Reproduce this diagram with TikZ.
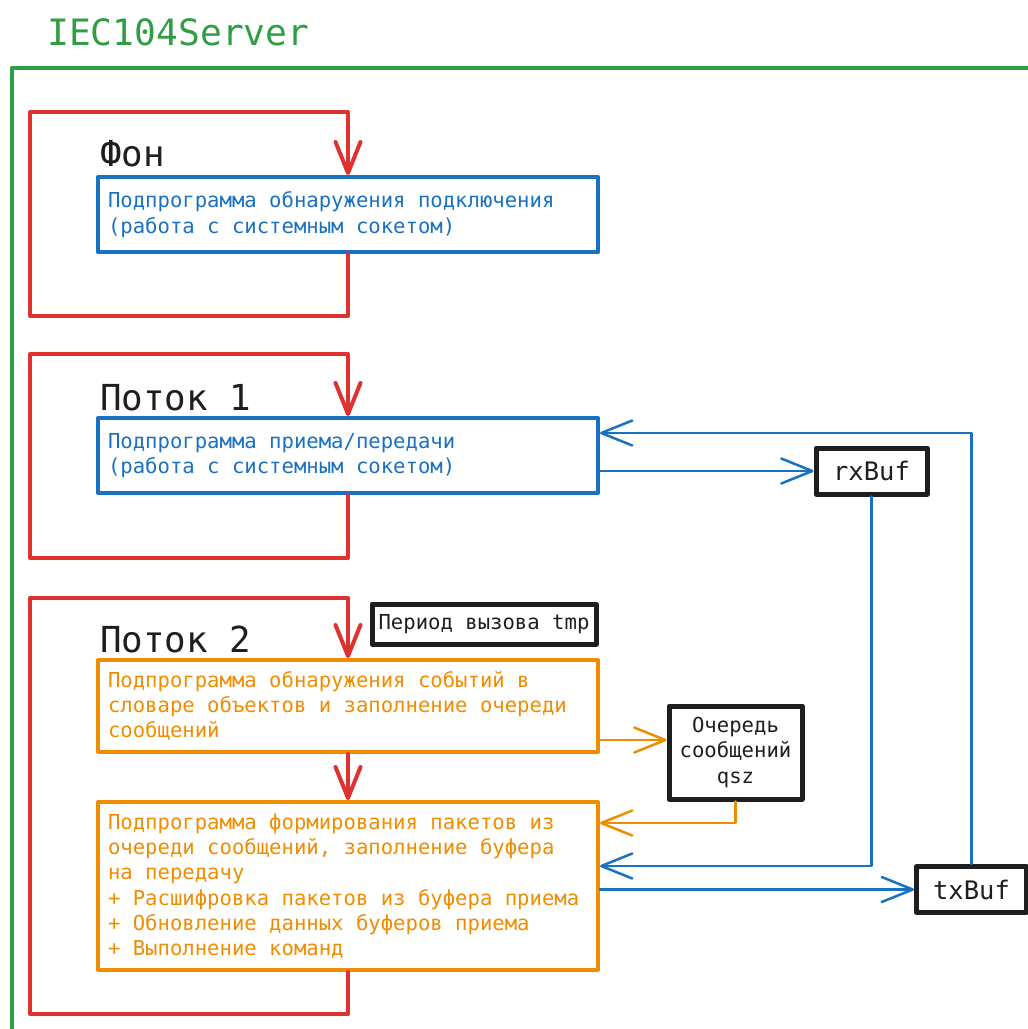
\documentclass[tikz,border=0pt]{standalone}
\usepackage{fontspec}
\newfontfamily\mono{DejaVu Sans Mono}
\newcommand\fixspace{\spaceskip=0.602em\relax\xspaceskip=0.602em\relax}
\usetikzlibrary{arrows.meta}
\definecolor{cred}{HTML}{E03131}
\definecolor{cblue}{HTML}{1971C2}
\definecolor{corange}{HTML}{F08C00}
\definecolor{cgreen}{HTML}{2F9E44}
\definecolor{cblack}{HTML}{1E1E1E}
\tikzset{
  bodyfont/.style={font=\mono\fontsize{20.6}{25.3}\selectfont, execute at begin node=\fixspace},
  prog/.style={draw, line width=4pt, line join=round, bodyfont, text width=480pt, inner xsep=10pt, inner ysep=0pt, align=left},
  bluebox/.style={prog, draw=cblue, text=cblue},
  orangebox/.style={prog, draw=corange, text=corange},
  blackbox/.style={draw=cblack, line width=5pt, line join=round, text=cblack, inner sep=0pt, align=center},
  thread/.style={anchor=base west, inner sep=0pt, text=cblack, font=\mono\fontsize{35.8}{40}\selectfont},
  tip/.style={-{Straight Barb[length=31pt,width=25pt,line cap=round,line join=round]}},
  redcon/.style={draw=cred, line width=4pt, line join=round, line cap=round},
  bluecon/.style={draw=cblue, line width=2.5pt, line join=round, line cap=round},
  orangecon/.style={draw=corange, line width=2.5pt, line join=round, line cap=round},
}
\begin{document}
\begin{tikzpicture}[x=1pt,y=-1pt]
\useasboundingbox (0,0) rectangle (1028,1029);
\clip (0,0) rectangle (1028,1029);
% title and outer frame
\node[anchor=base west, inner sep=0pt, text=cgreen, font=\mono\fontsize{36.3}{40}\selectfont] (title) at (47,45) {IEC104Server};
\coordinate (gbl) at (12,1040);
\coordinate (gtl) at (12,68);
\coordinate (gtr) at (1040,68);
\draw[draw=cgreen, line width=4pt, line join=round] (gbl) -- (gtl) -- (gtr);

% boxes
\node[bluebox, minimum height=75pt] (b1) at (348,214.5) {Подпрограмма обнаружения подключения\\(работа с системным сокетом)};
\node[bluebox, minimum height=75pt] (b2) at (348,455.5) {Подпрограмма приема/передачи\\(работа с системным сокетом)};
\node[orangebox, minimum height=92pt] (o1) at (348,706) {Подпрограмма обнаружения событий в\\словаре объектов и заполнение очереди\\сообщений};
\node[orangebox, minimum height=168pt] (o2) at (348,886) {Подпрограмма формирования пакетов из\\очереди сообщений, заполнение буфера\\на передачу\\+ Расшифровка пакетов из буфера приема\\+ Обновление данных буферов приема\\+ Выполнение команд};

\node[blackbox, minimum width=111pt, minimum height=46pt, font=\mono\fontsize{25.5}{28}\selectfont] (rx) at (871.5,471) {rxBuf};
\node[blackbox, minimum width=110pt, minimum height=46pt, font=\mono\fontsize{25.5}{28}\selectfont] (tx) at (971.5,889.5) {txBuf};
\node[blackbox, minimum width=224pt, minimum height=40pt, bodyfont] (per) at (484,624) {Период вызова tmp};
\node[blackbox, minimum width=133pt, minimum height=93pt, bodyfont] (q) at (735.5,752.5) {Очередь\\сообщений\\qsz};

% thread labels
\node[thread] (lfon) at (100,166) {Фон};
\node[thread] (lp1) at (100,410) {Поток 1};
\node[thread] (lp2) at (100,652) {Поток 2};

% red loops
\coordinate (r1tr) at (348,112);
\coordinate (r1tl) at (30,112);
\coordinate (r1bl) at (30,316);
\coordinate (r1br) at (348,316);
\draw[redcon, tip] (b1.south) -- (r1br) -- (r1bl) -- (r1tl) -- (r1tr) -- (b1.north);

\coordinate (r2tr) at (348,354);
\coordinate (r2tl) at (30,354);
\coordinate (r2bl) at (30,558);
\coordinate (r2br) at (348,558);
\draw[redcon, tip] (b2.south) -- (r2br) -- (r2bl) -- (r2tl) -- (r2tr) -- (b2.north);

\coordinate (r3tr) at (348,598);
\coordinate (r3tl) at (30,598);
\coordinate (r3bl) at (30,1014);
\coordinate (r3br) at (348,1014);
\draw[redcon, tip] (o2.south) -- (r3br) -- (r3bl) -- (r3tl) -- (r3tr) -- (o1.north);
\draw[redcon, tip] (o1.south) -- (o2.north);

% blue connectors
\coordinate (y433) at (0,433);
\coordinate (y866) at (0,866);
\draw[bluecon, tip] (b2.east |- rx.west) -- (rx.west);
\draw[bluecon, tip] (tx.north) -- (tx.north |- y433) -- (b2.east |- y433);
\draw[bluecon, tip] (rx.south) -- (rx.south |- y866) -- (o2.east |- y866);
\draw[bluecon, tip] (o2.east |- tx.west) -- (tx.west);

% orange connectors
\coordinate (y740) at (0,740);
\coordinate (y823) at (0,823);
\draw[orangecon, tip] (o1.east |- y740) -- (q.west |- y740);
\draw[orangecon, tip] (q.south) -- (q.south |- y823) -- (o2.east |- y823);
\end{tikzpicture}
\end{document}
